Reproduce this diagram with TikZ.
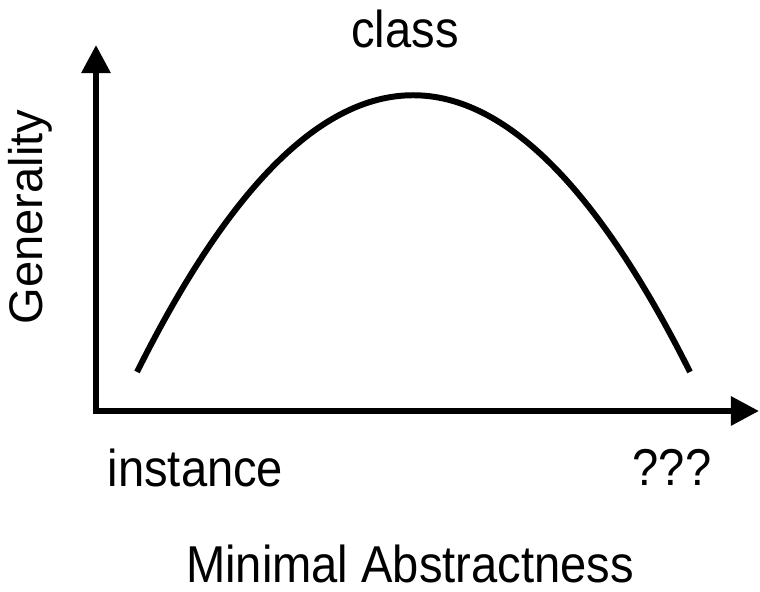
\documentclass[tikz,border=0pt]{standalone}
\usepackage{fontspec}
\setmainfont{Liberation Sans}
\usepackage{tikz}
\usetikzlibrary{arrows.meta}

\begin{document}
\begin{tikzpicture}[x=0.01cm,y=-0.01cm,
    lbl/.style={font=\fontsize{13.4}{16}\selectfont, inner sep=0pt},
    stretched/.style={yscale=1.1, transform shape}]
    \def\W{760}
    \def\H{592}
    \useasboundingbox (0,0) rectangle (\W,\H);
    % the axes
    \coordinate (O) at (96,411);
    \coordinate (ytip) at (96,45);
    \coordinate (xtip) at (759,411);
    \draw[line width=1.7pt, {Triangle[length=8pt,width=8pt]}-{Triangle[length=8pt,width=8pt]}] (ytip) -- (O) -- (xtip);
    % the curve
    \coordinate (start) at (137,372);
    \coordinate (stop) at (690,372);
    \draw[line width=1.7pt] (start) .. controls (321,3) and (505,3) .. (stop);
    % labels
    \node[lbl, stretched, anchor=base] (class) at (405,48) {class};
    \node[lbl, stretched, anchor=base west] (instance) at (107,487) {instance};
    \node[lbl, stretched, anchor=base east] (unknown) at (712,486) {???};
    \node[lbl, stretched, anchor=base] (xlabel) at (410,583) {Minimal Abstractness};
    \node[lbl, rotate=90, anchor=base] (ylabel) at (43,217) {Generality};
\end{tikzpicture}
\end{document}
